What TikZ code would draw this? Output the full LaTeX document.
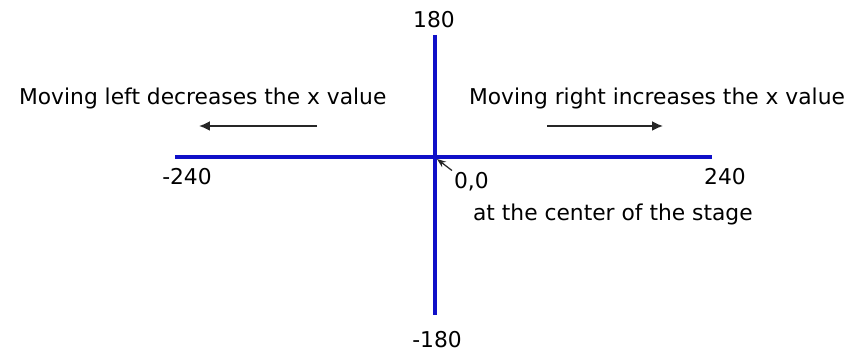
\documentclass[tikz,border=0pt]{standalone}
\usepackage{fontspec}
\setmainfont{DejaVu Sans}
\usetikzlibrary{positioning,arrows.meta}
\definecolor{axisblue}{RGB}{16,16,200}

\begin{document}
\begin{tikzpicture}[x=0.02cm, y=-0.02cm,
  axis/.style={draw=axisblue, line width=2.2pt},
  lbl/.style={font=\fontsize{12.4}{14}\selectfont, inner sep=1pt},
  arr/.style={-{Latex[length=2.2mm,width=2mm]}, black!85, line width=1pt}]
\useasboundingbox (0,0) rectangle (860,354);
% axes
\coordinate (xl) at (175,157); \coordinate (xr) at (712,157);
\coordinate (yt) at (435,35);  \coordinate (yb) at (435,315);
\coordinate (o) at (437,159);
\draw[axis] (xl) -- (xr);
\draw[axis] (yt) -- (yb);
% axis values
\node[lbl] (top) at (434,20) {180};
\node[lbl] (bot) at (437,340) {-180};
\node[lbl] (left) at (187,177) {-240};
\node[lbl] (right) at (725,177) {240};
\node[lbl, anchor=west] (zero) at (452,182) {0,0};
\node[lbl, anchor=west] (centre) at (471,214) {at the center of the stage};
\draw[-{Stealth[length=1.8mm]}, black!85, line width=0.7pt] (zero.north west) -- (o);
% direction texts
\node[lbl, anchor=west] (mvl) at (17,98) {Moving left decreases the x value};
\node[lbl, anchor=west] (mvr) at (467,98) {Moving right increases the x value};
\coordinate (la) at (317,126); \coordinate (lb) at (199,126);
\coordinate (ra) at (547,126); \coordinate (rb) at (663,126);
\draw[arr] (la) -- (lb);
\draw[arr] (ra) -- (rb);
\end{tikzpicture}
\end{document}
